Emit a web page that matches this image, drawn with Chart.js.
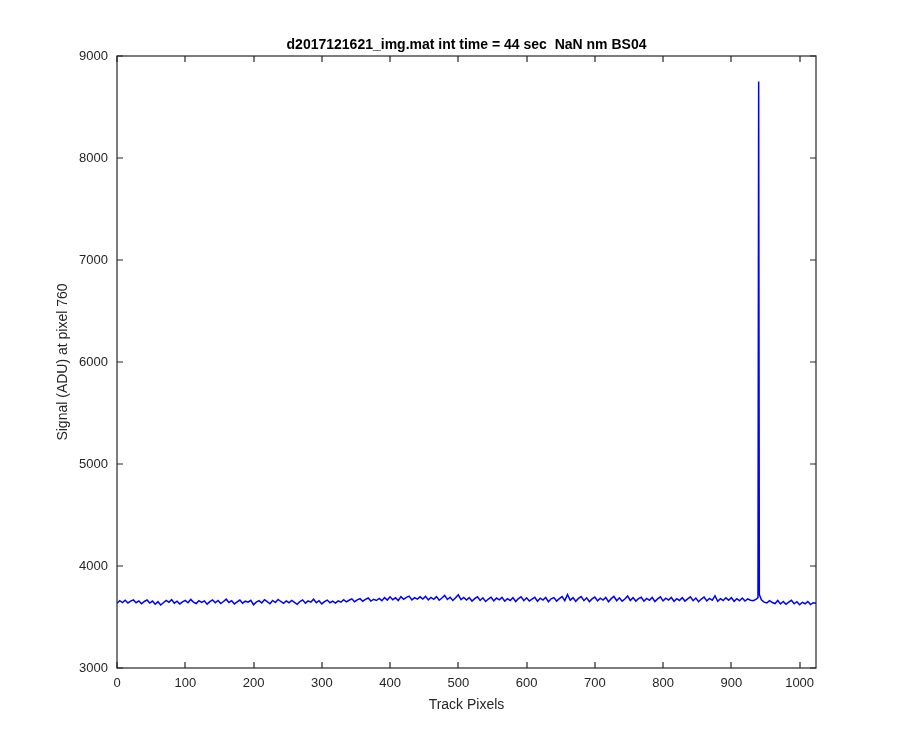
<!DOCTYPE html>
<html>
<head>
<meta charset="utf-8">
<script src="https://cdn.jsdelivr.net/npm/chart.js@4.4.1/dist/chart.umd.min.js"></script>
<style>
  html, body { margin: 0; background: #fff; }
</style>
</head>
<body>
<canvas id="chart" width="900" height="750"></canvas>
<script>
// ── Data ──
const sampleStep = 4;
const signal = [
  3635,3660,3642,3665,3638,3655,3668,3640,3658,3630,3652,3667,3637,3656,3625,3650,
  3618,3640,3662,3645,3670,3636,3655,3628,3648,3663,3640,3672,3646,3632,3660,3644,
  3658,3626,3650,3668,3640,3662,3632,3652,3675,3643,3660,3628,3648,3666,3636,3655,
  3645,3664,3620,3646,3660,3638,3670,3650,3630,3662,3642,3672,3652,3634,3658,3640,
  3662,3644,3625,3652,3668,3636,3658,3646,3674,3640,3660,3628,3650,3666,3640,3656,
  3636,3658,3645,3670,3648,3664,3678,3650,3668,3680,3655,3672,3686,3656,3674,3662,
  3682,3660,3690,3666,3698,3670,3688,3662,3700,3674,3692,3705,3668,3690,3676,3698,
  3676,3702,3668,3692,3674,3700,3664,3686,3712,3672,3694,3662,3688,3718,3670,3692,
  3666,3690,3656,3680,3698,3662,3688,3652,3676,3694,3658,3686,3668,3692,3656,3680,
  3662,3690,3652,3680,3698,3660,3688,3656,3676,3694,3654,3684,3666,3692,3650,3678,
  3690,3656,3680,3700,3660,3720,3664,3690,3654,3682,3700,3660,3688,3652,3678,3696,
  3658,3684,3666,3692,3650,3680,3702,3660,3688,3655,3676,3706,3662,3690,3656,3680,
  3694,3656,3682,3664,3692,3652,3678,3698,3658,3684,3666,3692,3654,3680,3662,3690,
  3656,3678,3698,3660,3686,3650,3676,3696,3658,3682,3664,3708,3654,3680,3662,3688,
  3664,3690,3654,3680,3660,3686,3656,3678,3664,3660,3672,8750,3668,3646,3638,3660,
  3642,3632,3662,3628,3652,3624,3646,3664,3630,3650,3620,3644,3630,3652,3622,3640,
  3634
];
// extra samples right beside the spike so it stays narrow
const spikePixels = [939, 941];
const spikeSignal = [3690, 3720];

const xTicks = [0, 100, 200, 300, 400, 500, 600, 700, 800, 900, 1000];
const yTicks = [3000, 4000, 5000, 6000, 7000, 8000, 9000];

const titleText = 'd2017121621_img.mat int time = 44 sec  NaN nm BS04';
const xTitle = 'Track Pixels';
const yTitle = 'Signal (ADU) at pixel 760';

// ── Build point list for Chart.js ──
const points = signal.map((v, i) => ({ x: i * sampleStep, y: v }));
spikePixels.forEach((px, i) => points.push({ x: px, y: spikeSignal[i] }));
points.sort((a, b) => a.x - b.x);

const axisColor = '#262626';
const fontFamily = '"Liberation Sans", Arial, Helvetica, sans-serif';

// ── MATLAB-style box: frame, inward ticks on all sides, titles ──
const matlabFrame = {
  id: 'matlabFrame',
  afterDraw(chart) {
    const { ctx, chartArea: a, scales } = chart;
    const tick = 6;
    ctx.save();
    ctx.strokeStyle = axisColor;
    ctx.lineWidth = 1.2;
    ctx.strokeRect(a.left, a.top, a.right - a.left, a.bottom - a.top);

    ctx.beginPath();
    xTicks.forEach(v => {
      const px = Math.round(scales.x.getPixelForValue(v));
      ctx.moveTo(px, a.bottom); ctx.lineTo(px, a.bottom - tick);
      ctx.moveTo(px, a.top); ctx.lineTo(px, a.top + tick);
    });
    yTicks.forEach(v => {
      const py = Math.round(scales.y.getPixelForValue(v));
      ctx.moveTo(a.left, py); ctx.lineTo(a.left + tick, py);
      ctx.moveTo(a.right, py); ctx.lineTo(a.right - tick, py);
    });
    ctx.stroke();

    const cx = (a.left + a.right) / 2;
    ctx.fillStyle = '#000';
    ctx.textAlign = 'center';
    ctx.textBaseline = 'middle';
    ctx.font = 'bold 14px ' + fontFamily;
    ctx.fillText(titleText, cx, 45);

    ctx.fillStyle = axisColor;
    ctx.font = '14px ' + fontFamily;
    ctx.fillText(xTitle, cx, 705);

    ctx.translate(63, (a.top + a.bottom) / 2);
    ctx.rotate(-Math.PI / 2);
    ctx.fillText(yTitle, 0, 0);
    ctx.restore();
  }
};

new Chart(document.getElementById('chart'), {
  type: 'line',
  data: {
    datasets: [{
      data: points,
      borderColor: '#0000ff',
      borderWidth: 1.5,
      pointRadius: 0,
      tension: 0,
      fill: false
    }]
  },
  options: {
    responsive: false,
    animation: false,
    devicePixelRatio: 1,
    layout: { padding: { left: 0, right: 84, top: 56, bottom: 22 } },
    plugins: { legend: { display: false }, tooltip: { enabled: false } },
    scales: {
      x: {
        type: 'linear',
        min: 0,
        max: 1024,
        afterFit: s => { s.height = 60; },
        afterBuildTicks: s => { s.ticks = xTicks.map(v => ({ value: v })); },
        grid: { display: false, drawTicks: false },
        border: { display: false },
        ticks: { color: axisColor, padding: 8, maxRotation: 0, autoSkip: false,
                 font: { family: fontFamily, size: 13 },
                 callback: v => String(v) }
      },
      y: {
        min: 3000,
        max: 9000,
        afterFit: s => { s.width = 117; },
        afterBuildTicks: s => { s.ticks = yTicks.map(v => ({ value: v })); },
        grid: { display: false, drawTicks: false },
        border: { display: false },
        ticks: { color: axisColor, padding: 9, autoSkip: false,
                 font: { family: fontFamily, size: 13 },
                 callback: v => String(v) }
      }
    }
  },
  plugins: [matlabFrame]
});
</script>
</body>
</html>
